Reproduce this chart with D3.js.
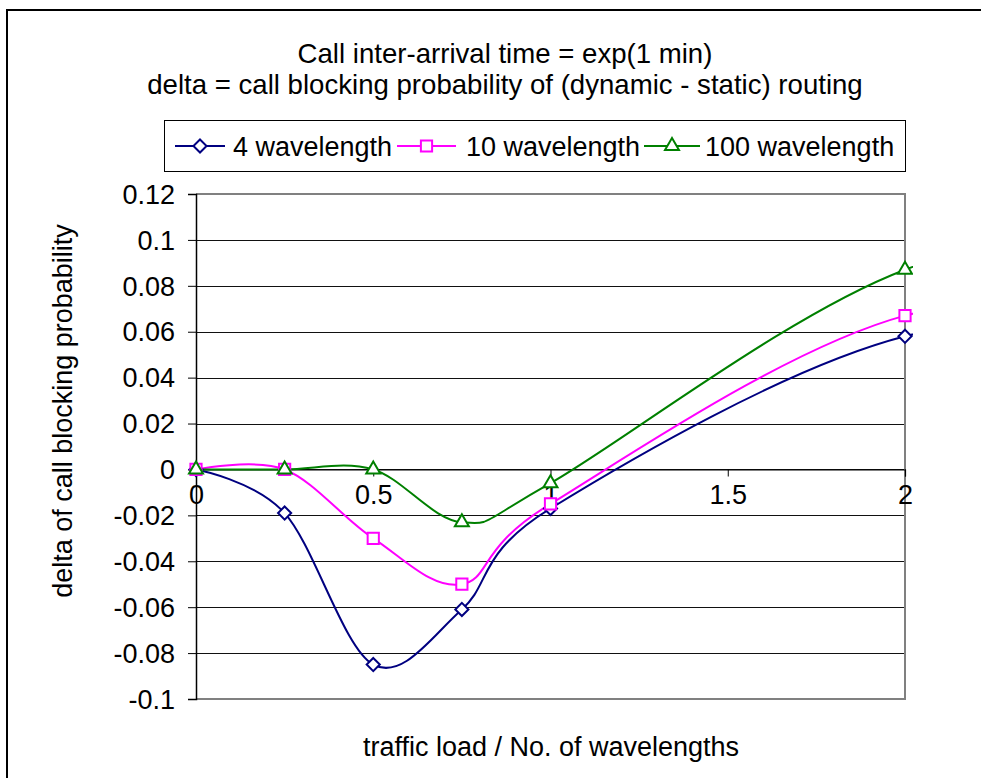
<!DOCTYPE html>
<html>
<head>
<meta charset="utf-8">
<script src="https://cdn.jsdelivr.net/npm/d3@7/dist/d3.min.js"></script>
<style>
  html, body { margin: 0; padding: 0; background: #fff; }
  svg { display: block; font-family: "Liberation Sans", Arial, sans-serif; }
</style>
</head>
<body>
<svg id="chart" width="981" height="778"></svg>
<script>
// Traffic load per wavelength (x) and blocking-probability deltas per series.
// The last load lies past the axis maximum; its line is clipped just after x = 2.
const loads = [0, 0.25, 0.5, 0.75, 1, 2, 3];
const delta4 = [0, -0.019, -0.085, -0.061, -0.017, 0.058, 0.063];
const delta10 = [0, 0, -0.030, -0.050, -0.015, 0.067, 0.069];
const delta100 = [0, 0, 0, -0.023, -0.006, 0.087, 0.112];

const seriesNames = ["4 wavelength", "10 wavelength", "100 wavelength"];
const seriesColors = ["#000080", "#FF00FF", "#008000"];
const seriesShapes = ["diamond", "square", "triangle"];

const xTicks = [0, 0.5, 1, 1.5, 2];
const xTickLabels = ["0", "0.5", "1", "1.5", "2"];
const yTicks = [0.12, 0.1, 0.08, 0.06, 0.04, 0.02, 0, -0.02, -0.04, -0.06, -0.08, -0.1];
const yTickLabels = ["0.12", "0.1", "0.08", "0.06", "0.04", "0.02", "0", "-0.02", "-0.04", "-0.06", "-0.08", "-0.1"];

const titleLines = ["Call inter-arrival time = exp(1 min)",
                    "delta = call blocking probability of (dynamic - static) routing"];
const xTitle = "traffic load / No. of wavelengths";
const yTitle = "delta of call blocking probability";

const series = [delta4, delta10, delta100].map((vals, i) => ({
  name: seriesNames[i],
  color: seriesColors[i],
  shape: seriesShapes[i],
  points: loads.map((x, j) => ({ x, y: vals[j] }))
}));

const svg = d3.select("#chart");
const FONT = 27;

// Plot area
const plot = { left: 196, right: 905, top: 194, bottom: 699 };
const x = d3.scaleLinear().domain([0, 2]).range([plot.left, plot.right]);
const y = d3.scaleLinear().domain([-0.1, 0.12]).range([plot.bottom, plot.top]);

svg.append("defs").append("clipPath").attr("id", "plot-clip")
  .append("rect")
  .attr("x", plot.left - 10).attr("y", plot.top - 10)
  .attr("width", plot.right - plot.left + 18).attr("height", plot.bottom - plot.top + 20);

// Outer chart frame
svg.append("rect")
  .attr("x", 7).attr("y", 10)
  .attr("width", 1100).attr("height", 900)
  .attr("fill", "none").attr("stroke", "#000").attr("stroke-width", 2);

// Title
svg.append("g").selectAll("text").data(titleLines).join("text")
  .attr("x", 505).attr("y", (d, i) => 63 + i * 31)
  .attr("text-anchor", "middle")
  .attr("font-size", 27.6)
  .text(d => d);

// Horizontal gridlines
svg.append("g").selectAll("line").data(yTicks.filter(v => v !== 0.12 && v !== -0.1)).join("line")
  .attr("x1", plot.left).attr("x2", plot.right)
  .attr("y1", d => Math.round(y(d)) + 0.5).attr("y2", d => Math.round(y(d)) + 0.5)
  .attr("stroke", "#111").attr("stroke-width", 1);

// Plot area border (top, right, bottom)
svg.append("path")
  .attr("d", `M${plot.left},${plot.top}H${plot.right}V${plot.bottom}H${plot.left}`)
  .attr("fill", "none").attr("stroke", "#808080").attr("stroke-width", 2);

// Y axis
const yAxis = d3.axisLeft(y).tickValues(yTicks).tickSize(8).tickPadding(13)
  .tickFormat((d, i) => yTickLabels[i]);
const gy = svg.append("g").attr("transform", `translate(${plot.left},0)`).call(yAxis);
gy.select(".domain").attr("stroke", "#000").attr("stroke-width", 1.5);
gy.selectAll(".tick line").attr("stroke", "#000");
gy.selectAll(".tick text")
  .attr("font-size", FONT).attr("font-family", "Liberation Sans, Arial, sans-serif")
  .attr("fill", "#000").attr("dy", "0.34em");

// X axis on the zero line
const xAxis = d3.axisBottom(x).tickValues(xTicks).tickSize(7).tickPadding(14)
  .tickFormat((d, i) => xTickLabels[i]);
const gx = svg.append("g").attr("transform", `translate(0,${Math.round(y(0)) + 0.5})`).call(xAxis);
gx.select(".domain").attr("stroke", "#000").attr("stroke-width", 1.2);
gx.selectAll(".tick line").attr("stroke", "#000");
gx.selectAll(".tick text")
  .attr("font-size", FONT).attr("font-family", "Liberation Sans, Arial, sans-serif")
  .attr("fill", "#000").attr("dy", "0.5em");

// Axis titles
svg.append("text")
  .attr("x", 551).attr("y", 756)
  .attr("text-anchor", "middle").attr("font-size", FONT)
  .text(xTitle);
svg.append("text")
  .attr("transform", "translate(72,411) rotate(-90)")
  .attr("text-anchor", "middle").attr("font-size", FONT)
  .text(yTitle);

// Marker shapes
const symbolFor = {
  diamond: d3.symbol().type(d3.symbolDiamond2).size(110),
  square: d3.symbol().type(d3.symbolSquare2).size(160),
  triangle: d3.symbol().type(d3.symbolTriangle2).size(140)
};

// Smoothed series lines
const line = d3.line().x(d => x(d.x)).y(d => y(d.y)).curve(d3.curveCatmullRom.alpha(0));
const gs = svg.append("g").attr("clip-path", "url(#plot-clip)");
series.forEach(s => {
  gs.append("path")
    .attr("d", line(s.points))
    .attr("fill", "none").attr("stroke", s.color).attr("stroke-width", 2);
});
series.forEach(s => {
  gs.append("g").selectAll("path").data(s.points.filter(d => d.x <= 2)).join("path")
    .attr("transform", d => `translate(${x(d.x)},${y(d.y)})`)
    .attr("d", symbolFor[s.shape]())
    .attr("fill", "#fff").attr("stroke", s.color).attr("stroke-width", 2);
});

// Legend
const legend = svg.append("g");
legend.append("rect")
  .attr("x", 164.5).attr("y", 120.5).attr("width", 741).attr("height", 51)
  .attr("fill", "#fff").attr("stroke", "#000").attr("stroke-width", 1);
const legendLineX = [[175, 225], [397, 456], [644, 700]];
const legendTextX = [233, 466, 705];
series.forEach((s, i) => {
  const [x0, x1] = legendLineX[i];
  const g = legend.append("g").attr("transform", "translate(0,146)");
  g.append("line").attr("x1", x0).attr("x2", x1).attr("y1", 0).attr("y2", 0)
    .attr("stroke", s.color).attr("stroke-width", 2);
  g.append("path").attr("transform", `translate(${(x0 + x1) / 2},0)`)
    .attr("d", symbolFor[s.shape]())
    .attr("fill", "#fff").attr("stroke", s.color).attr("stroke-width", 2);
  g.append("text").attr("x", legendTextX[i]).attr("y", 9.5)
    .attr("font-size", FONT).text(s.name);
});
</script>
</body>
</html>
